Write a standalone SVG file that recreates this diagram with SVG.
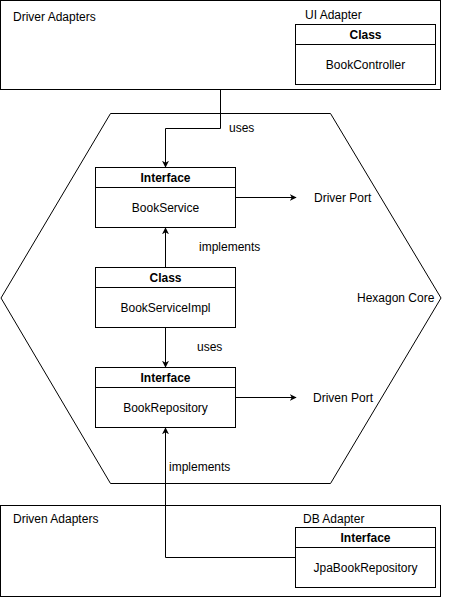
<svg xmlns="http://www.w3.org/2000/svg" width="451" height="598" viewBox="0 0 451 598">
<style>
text{font-family:"Liberation Sans",Arial,sans-serif;font-size:12px;fill:#000}
.b{font-weight:bold}
.m{text-anchor:middle}
.s{fill:#fff;stroke:#000;stroke-width:1}
.c{fill:none;stroke:#000;stroke-width:1}
</style>
<defs>
<marker id="a" viewBox="0 0 10 10" refX="9" refY="5" markerWidth="7" markerHeight="7" orient="auto" markerUnits="userSpaceOnUse">
<path d="M0,0 L10,5 L0,10 L3,5 Z" fill="#000"/>
</marker>
</defs>
<rect width="451" height="598" fill="#fff"/>
<g id="driver-adapters">
<rect class="s" x="0.5" y="0.5" width="440" height="89"/>
<text x="13" y="21">Driver Adapters</text>
<text x="305" y="19">UI Adapter</text>
</g>
<g id="hexagon-core">
<polygon class="s" points="110.5,113.5 330.5,113.5 441,298 330.5,483.5 110.5,483.5 1,298"/>
<text x="357" y="302">Hexagon Core</text>
</g>
<g id="driven-adapters">
<rect class="s" x="0.5" y="505.5" width="440" height="91"/>
<text x="13" y="523">Driven Adapters</text>
<text x="303" y="523">DB Adapter</text>
</g>
<g id="book-controller">
<rect class="s" x="295.5" y="24.5" width="140" height="60"/>
<line class="c" x1="295.5" y1="44.5" x2="435.5" y2="44.5"/>
<text class="b m" x="365.5" y="39">Class</text>
<text class="m" x="365.5" y="69">BookController</text>
</g>
<g id="book-service">
<rect class="s" x="95.5" y="167.5" width="140" height="60"/>
<line class="c" x1="95.5" y1="187.5" x2="235.5" y2="187.5"/>
<text class="b m" x="165.5" y="182">Interface</text>
<text class="m" x="165.5" y="212">BookService</text>
</g>
<g id="book-service-impl">
<rect class="s" x="95.5" y="267.5" width="140" height="60"/>
<line class="c" x1="95.5" y1="287.5" x2="235.5" y2="287.5"/>
<text class="b m" x="165.5" y="282">Class</text>
<text class="m" x="165.5" y="312">BookServiceImpl</text>
</g>
<g id="book-repository">
<rect class="s" x="95.5" y="367.5" width="140" height="60"/>
<line class="c" x1="95.5" y1="387.5" x2="235.5" y2="387.5"/>
<text class="b m" x="165.5" y="382">Interface</text>
<text class="m" x="165.5" y="412">BookRepository</text>
</g>
<g id="jpa-book-repository">
<rect class="s" x="295.5" y="527.5" width="140" height="60"/>
<line class="c" x1="295.5" y1="547.5" x2="435.5" y2="547.5"/>
<text class="b m" x="365.5" y="542">Interface</text>
<text class="m" x="365.5" y="572">JpaBookRepository</text>
</g>
<g id="driver-port"><text x="314" y="202">Driver Port</text></g>
<g id="driven-port"><text x="313" y="402">Driven Port</text></g>
<g id="connectors">
<path class="c" d="M220.5,90 V128.5 H165.5 V167" marker-end="url(#a)"/>
<text x="229" y="132">uses</text>
<path class="c" d="M235.5,197.5 H296" marker-end="url(#a)"/>
<path class="c" d="M165.5,267 V228" marker-end="url(#a)"/>
<text x="199" y="251">implements</text>
<path class="c" d="M165.5,327.5 V367" marker-end="url(#a)"/>
<text x="197" y="351">uses</text>
<path class="c" d="M235.5,397.5 H296" marker-end="url(#a)"/>
<path class="c" d="M295,557.5 H165.5 V428" marker-end="url(#a)"/>
<text x="169" y="471">implements</text>
</g>
</svg>
